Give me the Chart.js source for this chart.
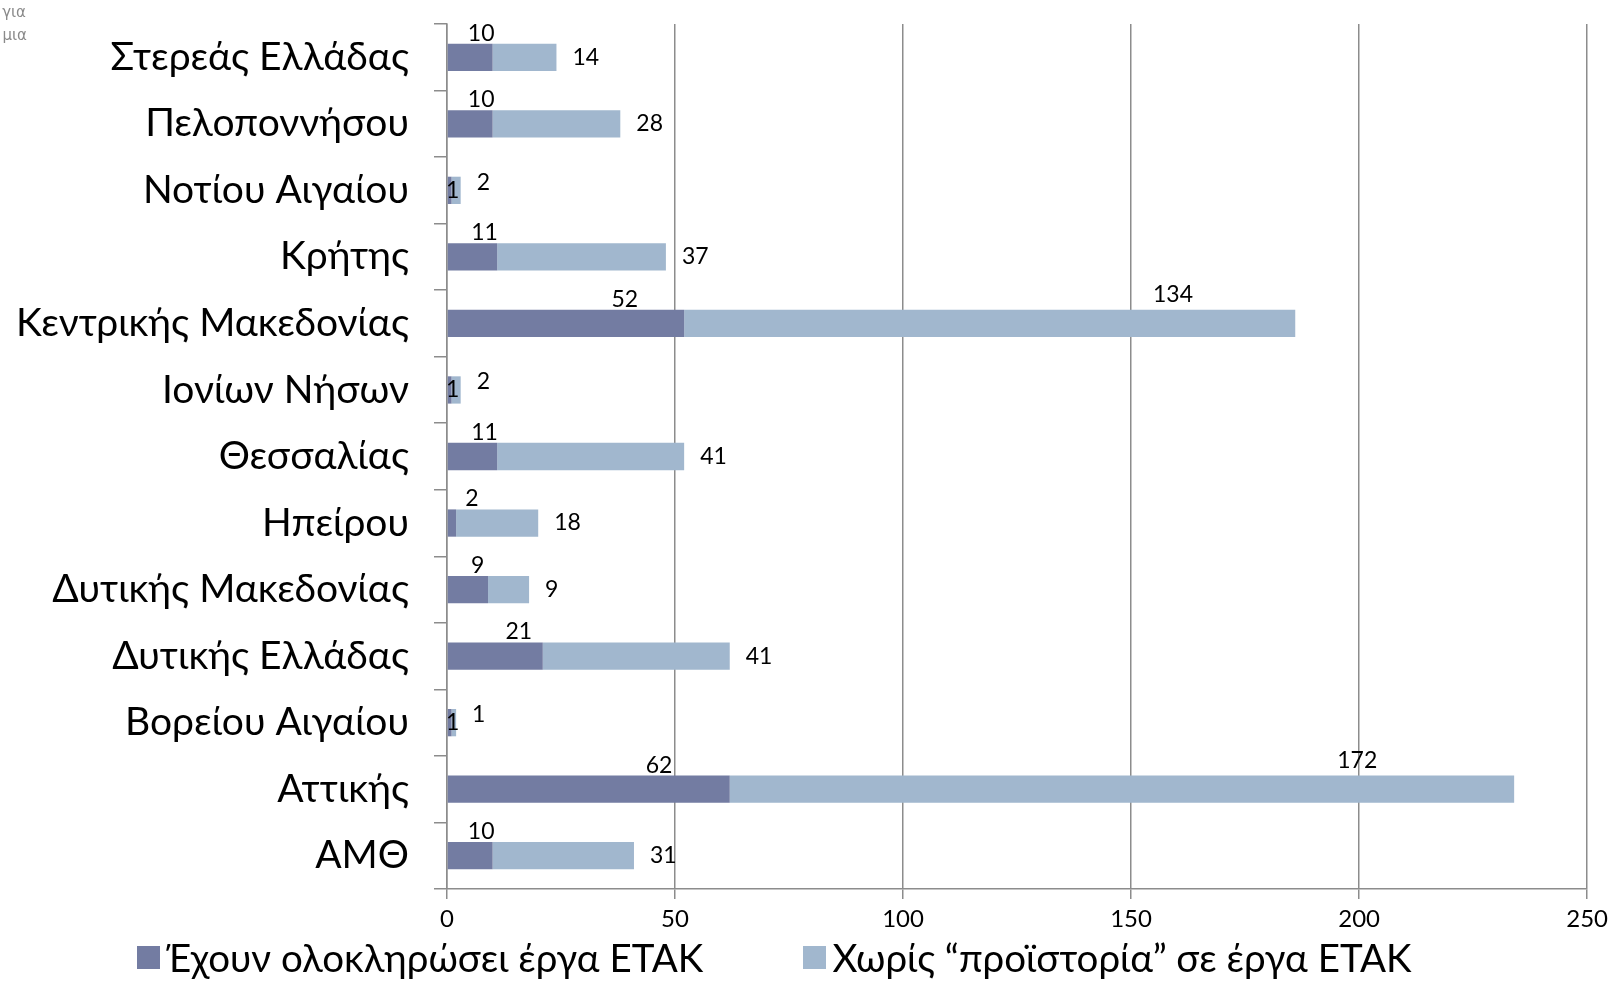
<!DOCTYPE html>
<html>
<head>
  <meta charset="utf-8">
  <title>Περιφέρειες και έργα ΕΤΑΚ</title>
  <script src="https://cdn.jsdelivr.net/npm/chart.js"></script>
  <style>
    html, body {
      margin: 0;
      padding: 0;
      background: #fff;
    }
    #chart-container {
      width: 1614px;
      height: 987px;
      position: relative;
    }
    #legend {
      position: absolute;
      left: 137px;
      top: 933px;
      display: flex;
      gap: 100px;
      font-family: Lato, sans-serif;
      font-size: 38.5px;
      color: #000;
      line-height: 48px;
    }
    #legend .item {
      display: flex;
      align-items: center;
    }
    #legend .box {
      width: 23px;
      height: 23px;
      margin-right: 6px;
    }
  </style>
</head>
<body>
  <div id="chart-container">
    <canvas id="myChart" width="1614" height="987"></canvas>
    <div id="legend"></div>
  </div>
  <script>
    const regions = [
      'Στερεάς Ελλάδας', 'Πελοποννήσου', 'Νοτίου Αιγαίου', 'Κρήτης',
      'Κεντρικής Μακεδονίας', 'Ιονίων Νήσων', 'Θεσσαλίας', 'Ηπείρου',
      'Δυτικής Μακεδονίας', 'Δυτικής Ελλάδας', 'Βορείου Αιγαίου', 'Αττικής', 'ΑΜΘ'
    ];
    const completed = [10, 10, 1, 11, 52, 1, 11, 2, 9, 21, 1, 62, 10];
    const noHistory = [14, 28, 2, 37, 134, 2, 41, 18, 9, 41, 1, 172, 31];
    const xTicks = [0, 50, 100, 150, 200, 250];
    const seriesNames = ['Έχουν ολοκληρώσει έργα ΕΤΑΚ', 'Χωρίς “προϊστορία” σε έργα ΕΤΑΚ'];
    const colors = ['rgb(115, 124, 162)', 'rgb(161, 183, 206)'];
    const gridColor = '#8c8c8c';

    Chart.defaults.font.family = 'Lato';

    // ετικέτες τιμών, περίπου όπως στο πρωτότυπο
    const barLabels = {
      id: 'barLabels',
      afterDatasetsDraw(chart) {
        const ctx = chart.ctx;
        const x = chart.scales.x;
        const bars = chart.getDatasetMeta(0).data;
        const x0 = x.getPixelForValue(0);
        ctx.save();
        ctx.font = '23px Lato';
        ctx.fillStyle = '#000';
        completed.forEach((v, i) => {
          const bar = bars[i];
          const top = bar.y - bar.height / 2;
          const darkEnd = x.getPixelForValue(v);
          if (v <= 1) {
            // πολύ μικρή τιμή: η ετικέτα πέφτει πάνω στη μπάρα
            ctx.textAlign = 'left';
            ctx.textBaseline = 'middle';
            ctx.fillText(String(v), x0 - 1, bar.y);
          } else {
            ctx.textAlign = 'center';
            ctx.textBaseline = 'alphabetic';
            ctx.fillText(String(v), x0 + Math.max(25, 0.75 * (darkEnd - x0)), top - 3);
          }

          const w = noHistory[i];
          const end = x.getPixelForValue(v + w);
          ctx.textAlign = 'center';
          ctx.textBaseline = 'alphabetic';
          if (w > 100) {
            ctx.fillText(String(w), darkEnd + 0.8 * (end - darkEnd), top - 8);
          } else {
            ctx.textAlign = 'left';
            ctx.textBaseline = 'middle';
            ctx.fillText(String(w), end + 16, bar.y - (v <= 1 ? 8 : 0));
          }
        });
        ctx.restore();
      }
    };

    // υπόλοιπο κειμένου της διαφάνειας πάνω αριστερά
    const cornerText = {
      id: 'cornerText',
      afterDraw(chart) {
        const ctx = chart.ctx;
        ctx.save();
        ctx.font = '15px "DejaVu Sans"';
        ctx.fillStyle = '#8a8a8a';
        ctx.textAlign = 'right';
        ctx.textBaseline = 'middle';
        ctx.fillText('για', 26, 13);
        ctx.fillText('μια', 27, 36);
        ctx.restore();
      }
    };

    const ctx = document.getElementById('myChart').getContext('2d');
    const chart = new Chart(ctx, {
      type: 'bar',
      data: {
        labels: regions,
        datasets: [{
          label: seriesNames[0],
          data: completed,
          backgroundColor: colors[0],
          borderWidth: 0,
          barPercentage: 0.41,
          categoryPercentage: 1
        }, {
          label: seriesNames[1],
          data: noHistory,
          backgroundColor: colors[1],
          borderWidth: 0,
          barPercentage: 0.41,
          categoryPercentage: 1
        }]
      },
      options: {
        indexAxis: 'y',
        responsive: false,
        animation: false,
        devicePixelRatio: 1,
        layout: {
          padding: { top: 24, right: 23, left: 0, bottom: 53 }
        },
        scales: {
          x: {
            stacked: true,
            min: 0,
            max: 250,
            afterBuildTicks: (s) => { s.ticks = xTicks.map(v => ({ value: v })); },
            afterFit: (s) => { s.height = 45; },
            grid: {
              color: gridColor,
              lineWidth: 1.5,
              tickLength: 10
            },
            border: { color: gridColor, width: 1.5 },
            ticks: {
              color: '#000',
              padding: 6,
              font: { size: 24 }
            }
          },
          y: {
            stacked: true,
            afterFit: (s) => {
              s.width = 447;
              s.paddingTop = 0;
              s.paddingBottom = 0;
            },
            grid: {
              drawOnChartArea: false,
              color: gridColor,
              lineWidth: 1.5,
              tickLength: 13
            },
            border: { color: gridColor, width: 1.5 },
            ticks: {
              color: '#000',
              padding: 25,
              font: { size: 39 }
            }
          }
        },
        plugins: {
          legend: { display: false },
          tooltip: { enabled: false }
        }
      },
      plugins: [barLabels, cornerText]
    });

    // υπόμνημα
    const legendDiv = document.getElementById('legend');
    seriesNames.forEach((name, i) => {
      const item = document.createElement('div');
      item.className = 'item';
      const box = document.createElement('span');
      box.className = 'box';
      box.style.background = colors[i];
      const txt = document.createElement('span');
      txt.textContent = name;
      item.appendChild(box);
      item.appendChild(txt);
      legendDiv.appendChild(item);
    });
  </script>
</body>
</html>
